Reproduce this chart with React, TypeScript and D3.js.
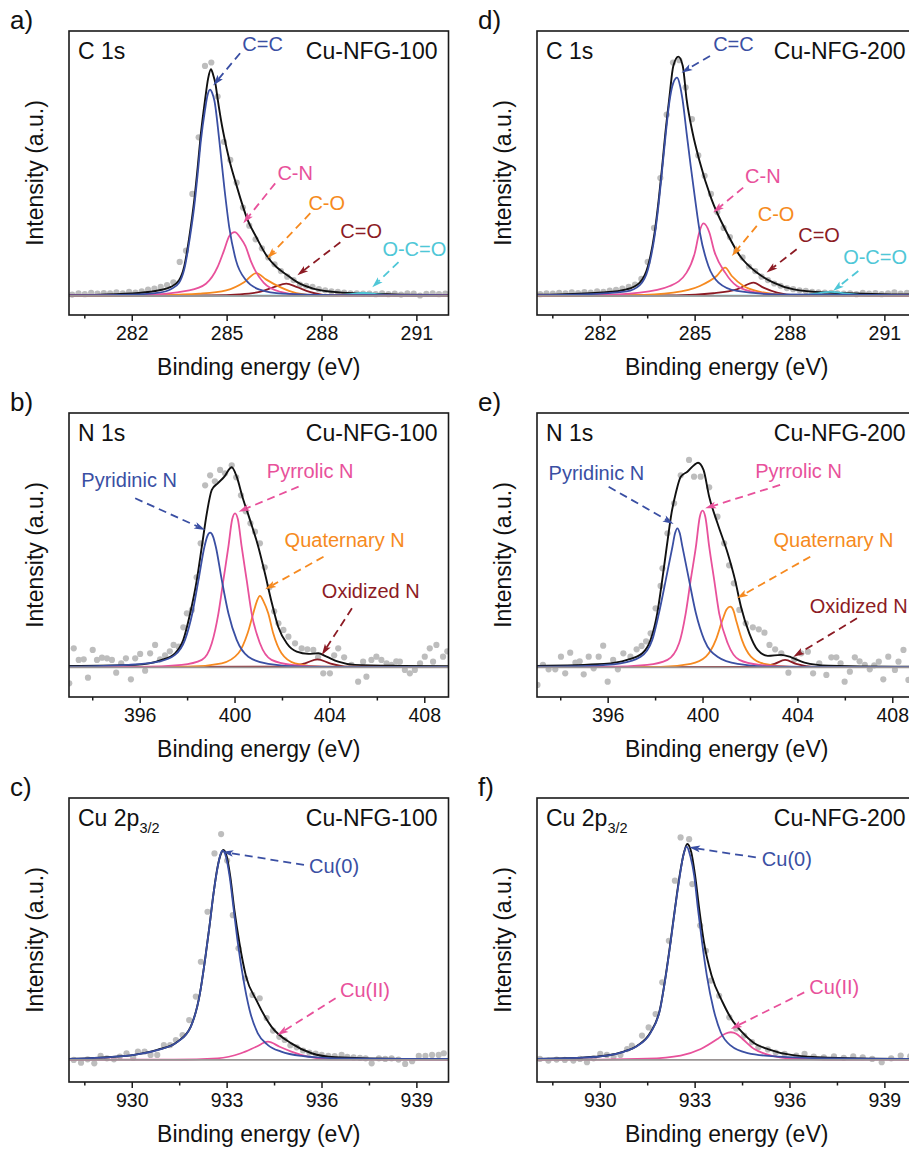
import React from "react";
import * as d3 from "d3";

type Pt = [number, number];
// [label, colour key, labelX, labelY, tailX, tailY, tipX, tipY] in data units
type Note = [string, string, number, number, number, number, number, number];

// ---------- tick values ----------
const C_MAJOR = [282, 285, 288, 291];
const C_MINOR = [280.5, 283.5, 286.5, 289.5];
const N_MAJOR = [396, 400, 404, 408];
const N_MINOR = [394, 398, 402, 406];
const CU_MAJOR = [930, 933, 936, 939];
const CU_MINOR = [928.5, 931.5, 934.5, 937.5];

// ---------- panel a : C 1s Cu-NFG-100 ----------
const A_ENV: Pt[] = [[280,0.004],[281,0.006],[282.2,0.013],[282.85,0.025],[283.22,0.04],[283.48,0.069],[283.64,0.128],[283.82,0.275],[283.96,0.422],[284.07,0.569],[284.17,0.716],[284.3,0.863],[284.4,0.96],[284.49,1.0],[284.56,0.975],[284.63,0.937],[284.7,0.87],[284.84,0.75],[284.91,0.7],[285.07,0.6],[285.28,0.496],[285.65,0.335],[285.92,0.26],[286.24,0.18],[286.56,0.128],[286.87,0.095],[287.19,0.063],[287.72,0.032],[288.36,0.018],[289.2,0.011],[290.47,0.006],[292,0.004]];
const A_CC: Pt[] = [[280,0.003],[282,0.006],[282.85,0.015],[283.22,0.03],[283.48,0.058],[283.64,0.115],[283.82,0.255],[283.96,0.395],[284.07,0.54],[284.17,0.685],[284.3,0.82],[284.38,0.885],[284.46,0.91],[284.53,0.895],[284.6,0.86],[284.75,0.69],[284.91,0.48],[285.07,0.3],[285.28,0.157],[285.6,0.069],[286.03,0.028],[286.77,0.01],[288.4,0.004],[292,0.003]];
const A_CN: Pt[] = [[280,0.002],[282.2,0.004],[283.8,0.025],[284.33,0.054],[284.7,0.128],[284.9,0.2],[285.07,0.265],[285.24,0.282],[285.43,0.255],[285.58,0.22],[285.76,0.15],[286.16,0.058],[286.69,0.018],[287.3,0.005],[289,0.002],[292,0.002]];
const A_CO: Pt[] = [[280,0.001],[283,0.004],[284.12,0.01],[284.97,0.025],[285.55,0.062],[285.92,0.101],[286.24,0.072],[286.66,0.04],[287.19,0.013],[287.9,0.003],[292,0.001]];
const A_CDO: Pt[] = [[280,0.001],[284.5,0.003],[285.39,0.007],[286.03,0.018],[286.5,0.04],[286.87,0.054],[287.19,0.04],[287.61,0.018],[288.14,0.004],[292,0.001]];
const A_OCO: Pt[] = [[280,0.001],[288.3,0.002],[288.8,0.007],[289.3,0.013],[289.8,0.007],[290.5,0.002],[292,0.001]];
const A_DOTS: Pt[] = [[280.1,0.006],[280.3,0.012],[280.5,0.008],[280.7,0.014],[280.9,0.01],[281.1,0.013],[281.3,0.011],[281.5,0.016],[281.7,0.012],[281.9,0.018],[282.1,0.015],[282.3,0.02],[282.5,0.028],[282.7,0.033],[282.9,0.04],[283.1,0.048],[283.3,0.06],[283.5,0.15],[283.7,0.2],[283.9,0.45],[284.1,0.7],[284.3,1.015],[284.5,1.03],[284.7,0.88],[284.9,0.68],[285.1,0.6],[285.3,0.5],[285.5,0.39],[285.7,0.31],[285.9,0.25],[286.1,0.21],[286.3,0.17],[286.5,0.14],[286.7,0.11],[286.9,0.085],[287.1,0.07],[287.3,0.05],[287.5,0.045],[287.7,0.04],[287.9,0.03],[288.1,0.025],[288.3,0.02],[288.5,0.018],[288.7,0.015],[288.9,0.012],[289.1,0.012],[289.3,0.01],[289.5,0.01],[289.7,0.008],[289.9,0.012],[290.1,0.008],[290.3,0.01],[290.5,0.006],[290.7,0.012],[290.9,0.01],[291.1,0.002],[291.3,0.009],[291.5,0.012],[291.7,0.008],[291.9,0.01]];
const A_NOTES: Note[] = [
  ["C=C","blue",285.48,1.079,285.41,1.071,284.56,0.929],
  ["C-N","pink",286.59,0.51,286.52,0.497,285.51,0.321],
  ["C-O","orange",287.57,0.378,287.63,0.365,286.27,0.166],
  ["C=O","dred",288.58,0.255,288.58,0.237,287.22,0.091],
  ["O-C=O","cyan",289.91,0.175,290.42,0.149,289.59,0.038],
];

// ---------- panel d : C 1s Cu-NFG-200 ----------
const D_ENV: Pt[] = [[280,0.006],[280.7,0.007],[282.08,0.015],[282.83,0.029],[283.25,0.059],[283.51,0.132],[283.72,0.28],[283.85,0.426],[283.96,0.574],[284.06,0.72],[284.18,0.868],[284.31,1.015],[284.47,1.056],[284.61,1.015],[284.73,0.868],[284.92,0.72],[285.13,0.6],[285.52,0.426],[286.0,0.28],[286.42,0.176],[286.95,0.103],[287.48,0.059],[288.12,0.029],[289.17,0.015],[291.3,0.007],[292,0.006]];
const D_CC: Pt[] = [[280,0.004],[281.5,0.007],[282.83,0.02],[283.25,0.048],[283.51,0.118],[283.72,0.265],[283.85,0.41],[283.96,0.56],[284.06,0.7],[284.18,0.85],[284.31,0.94],[284.43,0.963],[284.52,0.93],[284.6,0.868],[284.73,0.72],[284.86,0.574],[285.0,0.426],[285.15,0.28],[285.42,0.132],[285.74,0.059],[286.32,0.022],[287.59,0.007],[292,0.004]];
const D_CN: Pt[] = [[280,0.002],[281.77,0.004],[283.25,0.015],[284.2,0.044],[284.73,0.103],[284.99,0.19],[285.13,0.28],[285.26,0.32],[285.45,0.28],[285.6,0.2],[285.95,0.103],[286.32,0.044],[286.96,0.015],[288.0,0.003],[292,0.002]];
const D_CO: Pt[] = [[280,0.001],[283.04,0.004],[284.31,0.015],[285.15,0.044],[285.68,0.088],[285.95,0.125],[286.16,0.088],[286.53,0.044],[287.06,0.018],[287.9,0.004],[292,0.001]];
const D_CDO: Pt[] = [[280,0.001],[284.41,0.003],[285.58,0.012],[286.32,0.029],[286.85,0.059],[287.16,0.037],[287.59,0.015],[288.22,0.003],[292,0.001]];
const D_OCO: Pt[] = [[280,0.001],[288.2,0.002],[288.8,0.01],[289.28,0.018],[289.8,0.01],[290.5,0.002],[292,0.001]];
const D_DOTS: Pt[] = [[280.1,0.008],[280.3,0.012],[280.5,0.01],[280.7,0.014],[280.9,0.012],[281.1,0.016],[281.3,0.013],[281.5,0.017],[281.7,0.015],[281.9,0.02],[282.1,0.018],[282.3,0.024],[282.5,0.027],[282.7,0.032],[282.9,0.04],[283.1,0.05],[283.3,0.075],[283.5,0.15],[283.7,0.3],[283.9,0.52],[284.1,0.8],[284.3,1.03],[284.5,1.04],[284.7,0.92],[284.9,0.78],[285.1,0.62],[285.3,0.53],[285.5,0.45],[285.7,0.37],[285.9,0.3],[286.1,0.26],[286.3,0.2],[286.5,0.17],[286.7,0.13],[286.9,0.11],[287.1,0.085],[287.3,0.07],[287.5,0.055],[287.7,0.045],[287.9,0.035],[288.1,0.03],[288.3,0.025],[288.5,0.022],[288.7,0.018],[288.9,0.016],[289.1,0.015],[289.3,0.014],[289.5,0.012],[289.7,0.01],[289.9,0.012],[290.1,0.008],[290.3,0.014],[290.5,0.01],[290.7,0.013],[290.9,0.008],[291.1,0.012],[291.3,0.016],[291.5,0.01],[291.7,0.014],[291.9,0.018]];
const D_NOTES: Note[] = [
  ["C=C","blue",285.57,1.081,285.47,1.059,284.57,0.985],
  ["C-N","pink",286.58,0.5,286.52,0.478,285.57,0.368],
  ["C-O","orange",286.98,0.331,286.95,0.309,286.16,0.176],
  ["C=O","dred",288.26,0.236,288.21,0.206,287.26,0.103],
  ["O-C=O","cyan",289.68,0.14,290.16,0.11,289.36,0.022],
];

// ---------- panel b : N 1s Cu-NFG-100 ----------
const B_ENV: Pt[] = [[393,0.007],[395.79,0.012],[396.91,0.037],[397.47,0.07],[397.82,0.137],[398.11,0.27],[398.39,0.437],[398.6,0.603],[398.81,0.77],[399.02,0.887],[399.27,0.92],[399.55,0.953],[399.79,0.995],[399.86,1.0],[400.07,0.953],[400.31,0.853],[400.63,0.737],[400.98,0.603],[401.26,0.47],[401.52,0.337],[401.82,0.203],[402.18,0.12],[402.6,0.078],[403.09,0.067],[403.51,0.07],[403.86,0.053],[404.35,0.028],[405.05,0.012],[407.02,0.007],[409,0.005]];
const B_PYD: Pt[] = [[393,0.003],[395.51,0.012],[396.77,0.028],[397.47,0.062],[397.89,0.137],[398.2,0.27],[398.46,0.437],[398.71,0.603],[398.83,0.655],[398.95,0.673],[399.07,0.655],[399.19,0.603],[399.44,0.437],[399.72,0.27],[400.07,0.137],[400.56,0.053],[401.4,0.017],[402.81,0.003],[409,0.002]];
const B_PYR: Pt[] = [[393,0.002],[396.07,0.002],[397.75,0.012],[398.6,0.037],[399.02,0.12],[399.3,0.27],[399.51,0.437],[399.72,0.603],[399.88,0.74],[400.0,0.77],[400.12,0.74],[400.28,0.603],[400.49,0.437],[400.7,0.27],[401.05,0.12],[401.54,0.037],[402.39,0.012],[403.93,0.002],[409,0.002]];
const B_QUA: Pt[] = [[393,0.002],[398.04,0.003],[399.44,0.02],[400.14,0.07],[400.53,0.17],[400.77,0.27],[400.92,0.33],[401.05,0.357],[401.2,0.33],[401.4,0.27],[401.61,0.17],[401.96,0.07],[402.53,0.02],[403.65,0.003],[409,0.002]];
const B_OXI: Pt[] = [[393,0.001],[402.25,0.003],[402.95,0.02],[403.48,0.04],[404.0,0.02],[404.77,0.003],[409,0.001]];
const B_DOTS: Pt[] = [[393.01,-0.08],[393.2,0.095],[393.41,0.037],[393.62,0.04],[393.8,-0.052],[394.0,0.087],[394.18,0.037],[394.39,0.048],[394.6,0.045],[394.81,0.037],[394.99,-0.027],[395.2,0.02],[395.4,0.045],[395.61,-0.06],[395.79,0.045],[396.0,0.067],[396.21,-0.017],[396.42,0.07],[396.63,0.112],[396.84,0.04],[397.05,0.06],[397.25,0.08],[397.41,0.112],[397.62,0.103],[397.82,0.2],[397.97,0.27],[398.18,0.287],[398.38,0.45],[398.55,0.62],[398.74,0.91],[398.95,0.96],[399.15,0.93],[399.37,0.987],[399.58,0.97],[399.86,1.01],[400.05,0.95],[400.25,0.86],[400.45,0.78],[400.65,0.72],[400.84,0.678],[401.05,0.62],[401.25,0.5],[401.45,0.4],[401.65,0.28],[401.83,0.22],[402.04,0.187],[402.25,0.153],[402.53,0.12],[402.81,0.095],[403.05,0.09],[403.3,0.087],[403.5,0.05],[403.72,-0.03],[404.0,-0.03],[404.18,0.06],[404.35,0.095],[404.6,0.05],[404.91,0.012],[405.19,-0.072],[405.4,0.028],[405.54,-0.047],[405.75,0.037],[405.96,0.053],[406.17,0.037],[406.39,0.02],[406.6,0.012],[406.8,0.03],[406.95,0.028],[407.16,-0.013],[407.37,-0.03],[407.58,-0.013],[407.8,0.02],[408.0,0.053],[408.21,0.095],[408.35,0.028],[408.49,0.112],[408.77,0.053],[408.95,0.08]];
const B_NOTES: Note[] = [
  ["Pyridinic N","blue",393.52,0.903,395.79,0.845,398.74,0.687],
  ["Pyrrolic N","pink",401.34,0.945,402.68,0.903,400.15,0.778],
  ["Quaternary N","orange",402.09,0.603,403.73,0.553,401.27,0.39],
  ["Oxidized N","dred",403.66,0.345,404.93,0.295,403.66,0.062],
];

// ---------- panel e : N 1s Cu-NFG-200 ----------
const E_ENV: Pt[] = [[393,0.007],[395.82,0.017],[396.8,0.037],[397.44,0.07],[397.79,0.137],[398.07,0.27],[398.28,0.437],[398.47,0.603],[398.67,0.77],[398.85,0.87],[399.06,0.953],[399.34,0.978],[399.63,1.012],[399.79,1.023],[400.02,0.987],[400.26,0.853],[400.61,0.72],[401.04,0.57],[401.35,0.437],[401.6,0.303],[401.95,0.17],[402.3,0.087],[402.73,0.057],[403.29,0.062],[403.72,0.05],[404.28,0.023],[405.27,0.008],[408.09,0.003],[409,0.003]];
const E_PYD: Pt[] = [[393,0.003],[395.11,0.007],[396.52,0.02],[397.37,0.053],[397.86,0.137],[398.14,0.27],[398.43,0.437],[398.71,0.603],[398.82,0.67],[398.92,0.695],[399.02,0.67],[399.13,0.603],[399.41,0.437],[399.7,0.27],[400.05,0.137],[400.61,0.053],[401.46,0.017],[402.87,0.003],[409,0.002]];
const E_PYR: Pt[] = [[393,0.002],[395.96,0.002],[397.65,0.012],[398.5,0.037],[398.99,0.12],[399.27,0.27],[399.48,0.437],[399.7,0.603],[399.86,0.75],[399.98,0.783],[400.1,0.75],[400.26,0.603],[400.47,0.437],[400.68,0.27],[401.04,0.12],[401.53,0.037],[402.38,0.012],[403.86,0.002],[409,0.002]];
const E_QUA: Pt[] = [[393,0.002],[398.21,0.002],[399.48,0.017],[400.12,0.053],[400.54,0.137],[400.82,0.237],[401.0,0.29],[401.15,0.303],[401.28,0.285],[401.39,0.237],[401.64,0.137],[402.02,0.053],[402.59,0.017],[403.72,0.002],[409,0.002]];
const E_OXI: Pt[] = [[393,0.001],[402.3,0.002],[403.01,0.017],[403.46,0.037],[403.93,0.017],[404.7,0.002],[409,0.001]];
const E_DOTS: Pt[] = [[393.02,-0.088],[393.25,0.012],[393.49,-0.01],[393.77,-0.01],[394.01,0.053],[394.19,-0.03],[394.4,0.073],[394.62,0.023],[394.8,0.03],[394.97,-0.035],[395.18,0.053],[395.39,-0.005],[395.6,0.053],[395.79,0.108],[395.98,-0.072],[396.21,0.037],[396.41,-0.01],[396.64,0.07],[396.94,0.053],[397.2,0.09],[397.41,0.107],[397.6,0.13],[397.79,0.17],[398.0,0.295],[398.21,0.407],[398.29,0.495],[398.5,0.67],[398.78,0.82],[399.06,0.96],[399.41,1.037],[399.62,0.953],[399.9,0.953],[400.26,0.9],[400.61,0.753],[400.89,0.62],[401.1,0.51],[401.3,0.42],[401.53,0.287],[401.8,0.22],[402.1,0.2],[402.35,0.19],[402.59,0.173],[402.8,0.112],[403.04,0.09],[403.3,0.07],[403.6,-0.027],[403.85,0.04],[404.14,0.07],[404.42,0.078],[404.64,-0.03],[404.9,0.02],[405.2,-0.038],[405.41,0.05],[405.62,0.05],[405.8,0.02],[405.97,-0.072],[406.19,-0.022],[406.4,0.05],[406.6,0.03],[406.82,0.012],[407.03,-0.01],[407.22,0.01],[407.41,0.028],[407.6,-0.06],[407.81,0.053],[408.09,-0.013],[408.24,0.028],[408.45,0.087],[408.66,-0.063],[408.85,0.02]];
const E_NOTES: Note[] = [
  ["Pyridinic N","blue",393.49,0.937,396.02,0.903,398.76,0.717],
  ["Pyrrolic N","pink",402.2,0.945,403.25,0.912,400.09,0.795],
  ["Quaternary N","orange",402.97,0.603,404.52,0.553,401.43,0.345],
  ["Oxidized N","dred",404.5,0.27,406.49,0.245,403.81,0.053],
];

// ---------- panel c : Cu 2p3/2 Cu-NFG-100 ----------
const C_ENV: Pt[] = [[928,0.005],[929.0,0.011],[930.05,0.024],[930.79,0.048],[931.43,0.087],[931.85,0.159],[932.14,0.317],[932.3,0.476],[932.44,0.635],[932.57,0.794],[932.7,0.921],[932.81,0.984],[932.88,1.0],[932.99,0.968],[933.1,0.873],[933.23,0.714],[933.39,0.556],[933.6,0.397],[933.92,0.286],[934.4,0.159],[935.03,0.079],[935.67,0.032],[936.41,0.013],[938.53,0.005],[940,0.005]];
const C_CU0: Pt[] = [[928,0.005],[929.0,0.011],[930.05,0.024],[930.79,0.047],[931.43,0.086],[931.85,0.158],[932.14,0.316],[932.3,0.475],[932.44,0.634],[932.57,0.792],[932.7,0.918],[932.79,0.98],[932.86,0.997],[932.95,0.975],[933.08,0.873],[933.21,0.714],[933.34,0.556],[933.5,0.397],[933.71,0.238],[933.97,0.127],[934.29,0.071],[934.71,0.04],[935.35,0.019],[936.41,0.008],[938.53,0.005],[940,0.005]];
const C_CU2: Pt[] = [[928,0.001],[931.32,0.002],[932.7,0.008],[933.44,0.032],[933.92,0.063],[934.29,0.087],[934.66,0.063],[935.03,0.04],[935.56,0.016],[936.3,0.003],[940,0.001]];
const C_DOTS: Pt[] = [[928.15,0],[928.38,-0.013],[928.59,0.003],[928.8,-0.016],[929.0,0.019],[929.2,0.008],[929.42,0.003],[929.61,0.016],[929.82,0.032],[930.03,0.011],[930.18,0.04],[930.39,0.04],[930.58,0.024],[930.79,0.024],[931.0,0.071],[931.2,0.071],[931.38,0.095],[931.59,0.119],[931.8,0.19],[932.01,0.302],[932.17,0.468],[932.38,0.706],[932.6,0.984],[932.81,1.076],[933.0,0.95],[933.18,0.69],[933.36,0.532],[933.57,0.389],[933.8,0.31],[934.03,0.294],[934.25,0.2],[934.45,0.14],[934.65,0.11],[934.82,0.095],[935.0,0.07],[935.2,0.06],[935.4,0.045],[935.6,0.035],[935.8,0.03],[935.99,0.024],[936.2,0.02],[936.4,0.018],[936.62,0.024],[936.8,0.015],[937.0,0.012],[937.2,0.01],[937.38,0.008],[937.57,-0.016],[937.8,0.008],[938.0,0.005],[938.2,0.008],[938.42,0.002],[938.63,-0.019],[938.85,-0.006],[939.06,0.019],[939.27,0.019],[939.48,0.024],[939.69,0.024],[939.85,0.032]];
const C_NOTES: Note[] = [
  ["Cu(0)","blue",935.59,0.889,935.43,0.929,932.85,0.992],
  ["Cu(II)","pink",936.57,0.299,936.43,0.294,934.59,0.119],
];

// ---------- panel f : Cu 2p3/2 Cu-NFG-200 ----------
const F_ENV: Pt[] = [[928,0.005],[929.26,0.01],[930.21,0.021],[930.74,0.04],[931.17,0.068],[931.59,0.132],[931.89,0.243],[932.07,0.402],[932.22,0.56],[932.36,0.719],[932.51,0.878],[932.65,0.989],[932.75,1.029],[932.88,0.989],[933.0,0.878],[933.13,0.719],[933.28,0.56],[933.52,0.402],[933.87,0.275],[934.13,0.2],[934.5,0.13],[934.87,0.08],[935.3,0.052],[936.04,0.024],[937.2,0.011],[939.82,0.005],[940,0.005]];
const F_CU0: Pt[] = [[928,0.005],[929.26,0.01],[930.21,0.021],[930.74,0.039],[931.17,0.066],[931.59,0.129],[931.89,0.24],[932.07,0.398],[932.22,0.556],[932.36,0.715],[932.51,0.872],[932.62,0.97],[932.73,1.017],[932.85,0.97],[932.97,0.878],[933.09,0.719],[933.22,0.56],[933.37,0.402],[933.58,0.243],[933.81,0.132],[934.13,0.068],[934.66,0.033],[935.61,0.016],[937.2,0.008],[940,0.005]];
const F_CU2: Pt[] = [[928,0.001],[930,0.002],[931.48,0.006],[932.54,0.021],[933.18,0.052],[933.71,0.1],[933.95,0.125],[934.13,0.132],[934.3,0.125],[934.5,0.1],[934.87,0.052],[935.4,0.021],[936.14,0.006],[937.2,0.002],[940,0.001]];
const F_DOTS: Pt[] = [[928.09,0.005],[928.36,-0.003],[928.62,0.002],[928.88,0],[929.15,-0.003],[929.36,0.005],[929.58,-0.011],[929.79,0.008],[930.0,0.029],[930.21,0.024],[930.42,0.017],[930.64,0.024],[930.85,0.052],[931.0,0.068],[931.32,0.116],[931.53,0.155],[931.75,0.219],[931.96,0.37],[932.17,0.568],[932.36,0.854],[932.54,1.06],[932.81,1.052],[932.91,0.838],[933.16,0.64],[933.34,0.52],[933.5,0.378],[933.76,0.306],[934.08,0.203],[934.3,0.15],[934.55,0.116],[934.8,0.085],[935.0,0.06],[935.3,0.05],[935.55,0.035],[935.83,0.029],[936.2,0.021],[936.46,0.029],[936.75,0.016],[937.07,0.013],[937.39,0.017],[937.7,0.01],[938.0,0.017],[938.3,0.013],[938.6,0.005],[938.9,-0.011],[939.2,0.008],[939.5,0.021],[939.8,0.018]];
const F_NOTES: Note[] = [
  ["Cu(0)","blue",935.11,0.925,934.92,0.965,932.81,1.013],
  ["Cu(II)","pink",936.61,0.314,936.45,0.322,934.13,0.148],
];

// ---------- styling / layout ----------
const COLORS: Record<string, string> = {
  blue: "#3a4fa3",
  pink: "#e8519b",
  orange: "#f68a20",
  dred: "#8c1b24",
  cyan: "#4fc7d7",
  black: "#111111",
};
const FONT = "'Liberation Sans', Arial, Helvetica, sans-serif";
const COL_X = [69, 537];
const ROW_Y = [31, 413, 798];
const W = 379.5;
const H = 284;

const KINDS: Record<string, { xd: [number, number]; yd: [number, number]; major: number[]; minor: number[] }> = {
  C: { xd: [280, 292], yd: [-0.084, 1.169], major: C_MAJOR, minor: C_MINOR },
  N: { xd: [393, 409], yd: [-0.1485, 1.2715], major: N_MAJOR, minor: N_MINOR },
  Cu: { xd: [928, 940], yd: [-0.105, 1.248], major: CU_MAJOR, minor: CU_MINOR },
};

type PanelSpec = {
  id: string; letter: string; col: number; row: number; kind: string;
  core: string; sub?: string; sample: string;
  env: Pt[]; comps: [Pt[], string][]; dots: Pt[]; notes: Note[];
};

const PANELS: PanelSpec[] = [
  { id: "a", letter: "a)", col: 0, row: 0, kind: "C", core: "C 1s", sample: "Cu-NFG-100", env: A_ENV,
    comps: [[A_OCO, "cyan"], [A_CDO, "dred"], [A_CO, "orange"], [A_CN, "pink"], [A_CC, "blue"]], dots: A_DOTS, notes: A_NOTES },
  { id: "d", letter: "d)", col: 1, row: 0, kind: "C", core: "C 1s", sample: "Cu-NFG-200", env: D_ENV,
    comps: [[D_OCO, "cyan"], [D_CDO, "dred"], [D_CO, "orange"], [D_CN, "pink"], [D_CC, "blue"]], dots: D_DOTS, notes: D_NOTES },
  { id: "b", letter: "b)", col: 0, row: 1, kind: "N", core: "N 1s", sample: "Cu-NFG-100", env: B_ENV,
    comps: [[B_OXI, "dred"], [B_QUA, "orange"], [B_PYR, "pink"], [B_PYD, "blue"]], dots: B_DOTS, notes: B_NOTES },
  { id: "e", letter: "e)", col: 1, row: 1, kind: "N", core: "N 1s", sample: "Cu-NFG-200", env: E_ENV,
    comps: [[E_OXI, "dred"], [E_QUA, "orange"], [E_PYR, "pink"], [E_PYD, "blue"]], dots: E_DOTS, notes: E_NOTES },
  { id: "c", letter: "c)", col: 0, row: 2, kind: "Cu", core: "Cu 2p", sub: "3/2", sample: "Cu-NFG-100", env: C_ENV,
    comps: [[C_CU2, "pink"], [C_CU0, "blue"]], dots: C_DOTS, notes: C_NOTES },
  { id: "f", letter: "f)", col: 1, row: 2, kind: "Cu", core: "Cu 2p", sub: "3/2", sample: "Cu-NFG-200", env: F_ENV,
    comps: [[F_CU2, "pink"], [F_CU0, "blue"]], dots: F_DOTS, notes: F_NOTES },
];

function Panel({ p }: { p: PanelSpec }) {
  const k = KINDS[p.kind];
  const x0 = COL_X[p.col];
  const y0 = ROW_Y[p.row];
  const x = d3.scaleLinear().domain(k.xd).range([x0, x0 + W]);
  const y = d3.scaleLinear().domain(k.yd).range([y0 + H, y0]);
  const line = d3
    .line<Pt>()
    .x((d) => x(d[0]))
    .y((d) => y(d[1]))
    .curve(d3.curveMonotoneX);
  const clipId = `clip-${p.id}`;
  const bottom = y0 + H;

  return (
    <g>
      <defs>
        <clipPath id={clipId}>
          <rect x={x0} y={y0} width={W} height={H} />
        </clipPath>
      </defs>
      <g clipPath={`url(#${clipId})`}>
        {p.dots.map((d, i) => (
          <circle key={i} cx={x(d[0])} cy={y(d[1])} r={3.1} fill="#bdbdbd" />
        ))}
        <path d={line(p.env) || ""} fill="none" stroke={COLORS.black} strokeWidth={1.9} />
        {p.comps.map(([pts, c], i) => (
          <path key={i} d={line(pts) || ""} fill="none" stroke={COLORS[c]} strokeWidth={1.8} />
        ))}
        <line x1={x0} x2={x0 + W} y1={y(0)} y2={y(0)} stroke="#9a9494" strokeWidth={1.8} />
        {p.notes.map((n, i) => {
          const [label, c, lx, ly, tx, ty, hx, hy] = n;
          const bx = x(tx), by = y(ty), ax = x(hx), ay = y(hy);
          const dx = ax - bx, dy = ay - by;
          const len = Math.hypot(dx, dy);
          const ux = dx / len, uy = dy / len;
          const L = 11, w = 3.4;
          const cx = ax - ux * L, cy = ay - uy * L;
          const nx = -uy, ny = ux;
          const notchX = cx + ux * 2.5, notchY = cy + uy * 2.5;
          const poly = `${ax},${ay} ${cx + nx * w},${cy + ny * w} ${notchX},${notchY} ${cx - nx * w},${cy - ny * w}`;
          return (
            <g key={i}>
              <line x1={bx} y1={by} x2={notchX} y2={notchY} stroke={COLORS[c]} strokeWidth={1.8} strokeDasharray="8 5" />
              <polygon points={poly} fill={COLORS[c]} />
              <text x={x(lx)} y={y(ly)} fill={COLORS[c]} fontSize={20} fontFamily={FONT}>
                {label}
              </text>
            </g>
          );
        })}
      </g>
      {/* frame */}
      <rect x={x0} y={y0} width={W} height={H} fill="none" stroke="#1a1a1a" strokeWidth={1.6} />
      {/* ticks */}
      {k.major.map((t) => (
        <g key={`M${t}`}>
          <line x1={x(t)} x2={x(t)} y1={bottom} y2={bottom + 6} stroke="#1a1a1a" strokeWidth={1.5} />
          <text x={x(t)} y={bottom + 25} textAnchor="middle" fontSize={19.5} fontFamily={FONT} fill="#111">
            {String(t)}
          </text>
        </g>
      ))}
      {k.minor.map((t) => (
        <line key={`m${t}`} x1={x(t)} x2={x(t)} y1={bottom} y2={bottom + 3.5} stroke="#1a1a1a" strokeWidth={1.5} />
      ))}
      <text x={x0 + W / 2} y={bottom + 60} textAnchor="middle" fontSize={23} fontFamily={FONT} fill="#111">
        Binding energy (eV)
      </text>
      <text
        transform={`translate(${x0 - 26},${y0 + H / 2}) rotate(-90)`}
        textAnchor="middle"
        fontSize={23}
        fontFamily={FONT}
        fill="#111"
      >
        Intensity (a.u.)
      </text>
      <text x={x0 - 59} y={y0 - 2} fontSize={26} fontFamily={FONT} fill="#111">
        {p.letter}
      </text>
      <text x={x0 + 9} y={y0 + 28} fontSize={23} fontFamily={FONT} fill="#111">
        {p.core}
        {p.sub ? (
          <tspan fontSize={14.5} dy={7}>
            {p.sub}
          </tspan>
        ) : null}
      </text>
      <text x={x0 + W - 11} y={y0 + 28} textAnchor="end" fontSize={23} fontFamily={FONT} fill="#111">
        {p.sample}
      </text>
    </g>
  );
}

export default function App() {
  return (
    <svg
      width={909}
      height={1149}
      viewBox="0 0 909 1149"
      style={{ position: "absolute", left: 0, top: 0, background: "#fff" }}
    >
      <rect x={0} y={0} width={909} height={1149} fill="#fff" />
      {PANELS.map((p) => (
        <Panel key={p.id} p={p} />
      ))}
    </svg>
  );
}
